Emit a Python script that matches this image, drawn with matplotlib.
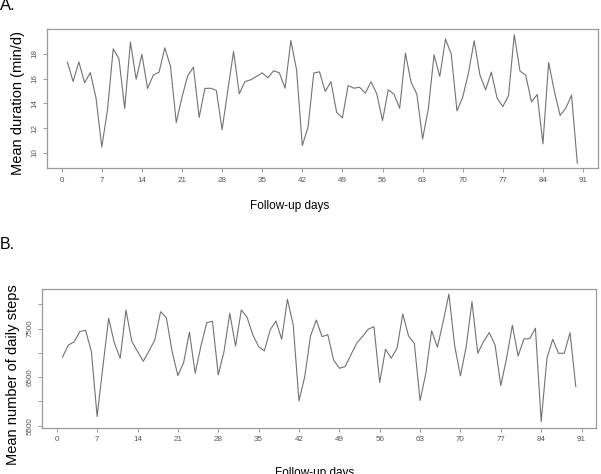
import numpy as np
import matplotlib

matplotlib.use("Agg")
import matplotlib.pyplot as plt  # noqa: E402

plt.rcParams["font.family"] = ["Liberation Sans", "DejaVu Sans"]

# ---------------------------------------------------------------- data
days = list(range(1, 91))

duration = [
    17.33, 15.76, 17.35, 15.66, 16.49, 14.42, 10.48, 13.47, 18.40, 17.60,
    13.58, 18.94, 15.95, 17.95, 15.20, 16.28, 16.52, 18.48, 16.98, 12.45,
    14.50, 16.22, 16.92, 12.86, 15.20, 15.22, 15.04, 11.86, 15.05, 18.19,
    14.77, 15.76, 15.90, 16.17, 16.46, 16.06, 16.63, 16.46, 15.22, 19.08,
    16.70, 10.59, 12.07, 16.44, 16.55, 14.96, 15.74, 13.26, 12.83, 15.44,
    15.22, 15.30, 14.82, 15.74, 14.77, 12.61, 15.09, 14.74, 13.60, 18.05,
    15.68, 14.74, 11.13, 13.56, 17.92, 16.17, 19.19, 17.97, 13.39, 14.50,
    16.44, 19.05, 16.30, 15.09, 16.52, 14.42, 13.74, 14.63, 19.54, 16.60,
    16.28, 14.12, 14.71, 10.73, 17.30, 14.96, 13.02, 13.61, 14.66, 9.17,
]

steps = [
    6911, 7163, 7225, 7437, 7465, 7026, 5691, 6718, 7711, 7198,
    6890, 7882, 7240, 7030, 6828, 7040, 7266, 7847, 7724, 7026,
    6533, 6800, 7424, 6582, 7143, 7621, 7649, 6547, 7026, 7814,
    7143, 7882, 7732, 7369, 7129, 7040, 7471, 7656, 7280, 8102,
    7574, 6010, 6512, 7348, 7677, 7334, 7375, 6855, 6684, 6718,
    6958, 7198, 7334, 7486, 7540, 6390, 7075, 6890, 7095, 7800,
    7348, 7198, 6020, 6582, 7457, 7116, 7642, 8210, 7143, 6527,
    7129, 8053, 6992, 7231, 7416, 7163, 6328, 6890, 7567, 6937,
    7286, 7293, 7506, 5588, 6890, 7280, 6992, 6992, 7416, 6307,
]

x_ticks = list(range(0, 92, 7))
dur_ticks = [10, 12, 14, 16, 18]
step_ticks = [5500, 6000, 6500, 7000, 7500, 8000]
step_labels = ["5500", "", "6500", "", "7500", ""]

LINE = "#727272"
FRAME = "#9a9a9a"
TICKTXT = "#555555"


def style(ax):
    for s in ax.spines.values():
        s.set_color(FRAME)
        s.set_linewidth(0.9)
    ax.tick_params(direction="out", length=3, width=0.7, color=FRAME,
                   labelsize=5.8, labelcolor=TICKTXT, pad=3.2)
    ax.tick_params(axis="y", labelrotation=90)
    for lab in ax.get_yticklabels():
        lab.set_va("center")
    ax.set_xticks(x_ticks)
    ax.set_xlim(-2.56, 93.56)


fig = plt.figure(figsize=(6.01, 4.74), dpi=100)

# ---- A: mean duration
axA = fig.add_axes([0.0782, 0.6456, 0.9163, 0.2932])
axA.plot(days, duration, color=LINE, lw=0.8)
axA.set_yticks(dur_ticks)
axA.set_ylim(8.78, 20.0)
style(axA)
fig.text(0.030, 0.782, "Mean duration (min/d)", rotation=90, ha="center",
         va="center", fontsize=10.5)
fig.text(0.482, 0.565, "Follow-up days", ha="center", va="center", fontsize=8.5)
fig.text(0.0, 1.005, "A.", ha="left", va="top", fontsize=12)

# ---- B: mean daily steps
axB = fig.add_axes([0.0699, 0.0981, 0.9223, 0.2928])
axB.plot(days, steps, color=LINE, lw=0.8)
axB.set_yticks(step_ticks)
axB.set_yticklabels(step_labels)
axB.set_ylim(5465, 8320)
style(axB)
fig.text(0.022, 0.21, "Mean number of daily steps", rotation=90, ha="center",
         va="center", fontsize=10.5)
fig.text(0.524, 0.003, "Follow-up days", ha="center", va="center", fontsize=8.5)
fig.text(0.0, 0.485, "B.", ha="left", va="center", fontsize=11.5)

fig.savefig("out.png", dpi=100)
